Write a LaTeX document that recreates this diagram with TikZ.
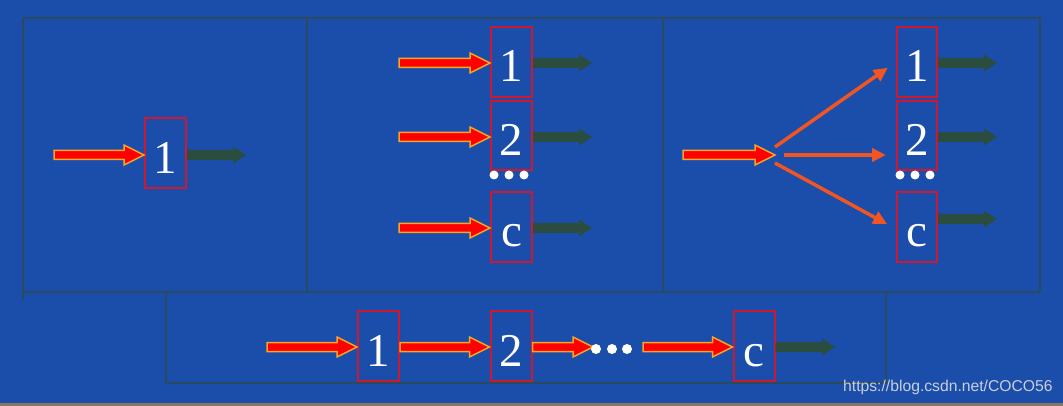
\documentclass[tikz,border=0pt]{standalone}
\usepackage{fontspec}
\setmainfont{Liberation Serif}
\newfontfamily\wmfont{Liberation Sans}
\usetikzlibrary{calc,arrows.meta}
\definecolor{bg}{HTML}{1B4EAB}
\definecolor{frameline}{HTML}{2B4A5E}
\definecolor{boxred}{HTML}{CC1830}
\definecolor{arrowred}{HTML}{FF0000}
\definecolor{arrowborder}{HTML}{F5A623}
\definecolor{darkarrow}{HTML}{2A4D40}
\definecolor{fanorange}{HTML}{F25522}
\definecolor{wmgray}{HTML}{C9CED8}
\definecolor{strip}{HTML}{8A7468}
\begin{document}
\begin{tikzpicture}[x=1pt,y=-1pt,
  box/.style={draw=boxred, line width=2pt, minimum width=41pt, minimum height=70pt,
    inner sep=0pt, text=white, font=\fontsize{47}{47}\selectfont, text height=40pt, text depth=0pt},
  fat/.style={fill=arrowred, draw=arrowborder, line width=1.5pt, line join=miter,
    to path={let \p1=(\tikztostart), \p2=(\tikztotarget) in
      (\x1,\y1+4.5pt) -- (\x2-20pt,\y1+4.5pt) -- (\x2-20pt,\y1+10pt) -- (\x2,\y1)
      -- (\x2-20pt,\y1-10pt) -- (\x2-20pt,\y1-4.5pt) -- (\x1,\y1-4.5pt) -- cycle}},
  dark/.style={fill=darkarrow,
    to path={let \p1=(\tikztostart), \p2=(\tikztotarget) in
      (\x1,\y1+5pt) -- (\x2-13pt,\y1+5pt) -- (\x2-13pt,\y1+8.5pt) -- (\x2,\y1)
      -- (\x2-13pt,\y1-8.5pt) -- (\x2-13pt,\y1-5pt) -- (\x1,\y1-5pt) -- cycle}},
  fan/.style={draw=fanorange, line width=3.5pt, -{Triangle[length=14pt,width=13pt]}, shorten >=10pt},
  frame/.style={draw=frameline, line width=2pt},
  wdot/.style={fill=white}]
\useasboundingbox (0,0) rectangle (1063,406);
\fill[bg] (0,0) rectangle (1063,406);
\fill[strip] (0,403) rectangle (1063,406);
% frames
\draw[frame] (23,18) -- (1040,18) -- (1040,292);
\draw[frame] (23,18) -- (23,300);
\draw[frame] (23,292) -- (1040,292);
\draw[frame] (307,18) -- (307,292);
\draw[frame] (663,18) -- (663,292);
\draw[frame] (166,292) rectangle (886,383);
% panel 1
\node[box] (b1) at (165.5,153.5) {1};
\coordinate (a1) at (54,155);
\coordinate (o1) at (246,155);
\path[fat] (a1) to (b1.west);
\path[dark] (b1.east |- o1) to (o1);
% panel 2
\node[box] (b21) at (511.5,62) {1};
\node[box, minimum height=69pt] (b22) at (511.5,135.5) {2};
\node[box] (b2c) at (511.5,227) {c};
\coordinate (a21) at (399,63);
\coordinate (a22) at (399,137);
\coordinate (a2c) at (399,228);
\coordinate (o21) at (592,63);
\coordinate (o22) at (592,137);
\coordinate (o2c) at (592,228);
\path[fat] (a21) to (b21.west |- a21);
\path[fat] (a22) to (b22.west |- a22);
\path[fat] (a2c) to (b2c.west |- a2c);
\path[dark] (b21.east |- o21) to (o21);
\path[dark] (b22.east |- o22) to (o22);
\path[dark] (b2c.east |- o2c) to (o2c);
\fill[wdot] (494,175) circle (4.5) (509,175) circle (4.5) (524,175) circle (4.5);
% panel 3
\node[box, minimum width=40pt] (b31) at (917,62) {1};
\node[box, minimum width=40pt, minimum height=69pt] (b32) at (917,135.5) {2};
\node[box, minimum width=40pt] (b3c) at (917,227) {c};
\coordinate (a3) at (683,155);
\coordinate (split) at (775,155);
\path[fat] (a3) to (split);
\draw[fan] ([yshift=8pt]split) -- (b31.west);
\draw[fan] ([xshift=9pt]split) -- (b32.west |- split);
\draw[fan] ([yshift=-8pt]split) -- ([yshift=-2pt]b3c.west);
\coordinate (o31) at (997,63);
\coordinate (o32) at (997,137);
\coordinate (o3c) at (997,219);
\path[dark] (b31.east |- o31) to (o31);
\path[dark] (b32.east |- o32) to (o32);
\path[dark] (b3c.east |- o3c) to (o3c);
\fill[wdot] (900,175) circle (4.5) (915,175) circle (4.5) (930,175) circle (4.5);
% bottom row
\node[box] (b41) at (378.5,346) {1};
\node[box] (b42) at (511,346) {2};
\node[box] (b4c) at (754,346) {c};
\coordinate (a4) at (267,347);
\coordinate (m4) at (593,347);
\coordinate (n4) at (643,347);
\coordinate (o4) at (835,347);
\path[fat] (a4) to (b41.west |- a4);
\path[fat] (b41.east |- a4) to (b42.west |- a4);
\path[fat] (b42.east |- a4) to (m4);
\path[fat] (n4) to (b4c.west |- n4);
\path[dark] (b4c.east |- o4) to (o4);
\fill[wdot] (596,349) circle (5) (612,349) circle (5) (627,349) circle (5);
% watermark
\node[anchor=west, inner sep=0pt, text=wmgray, font=\wmfont\fontsize{15.7}{15.7}\selectfont] (wm) at (843,387) {https://blog.csdn.net/COCO56};
\end{tikzpicture}
\end{document}
